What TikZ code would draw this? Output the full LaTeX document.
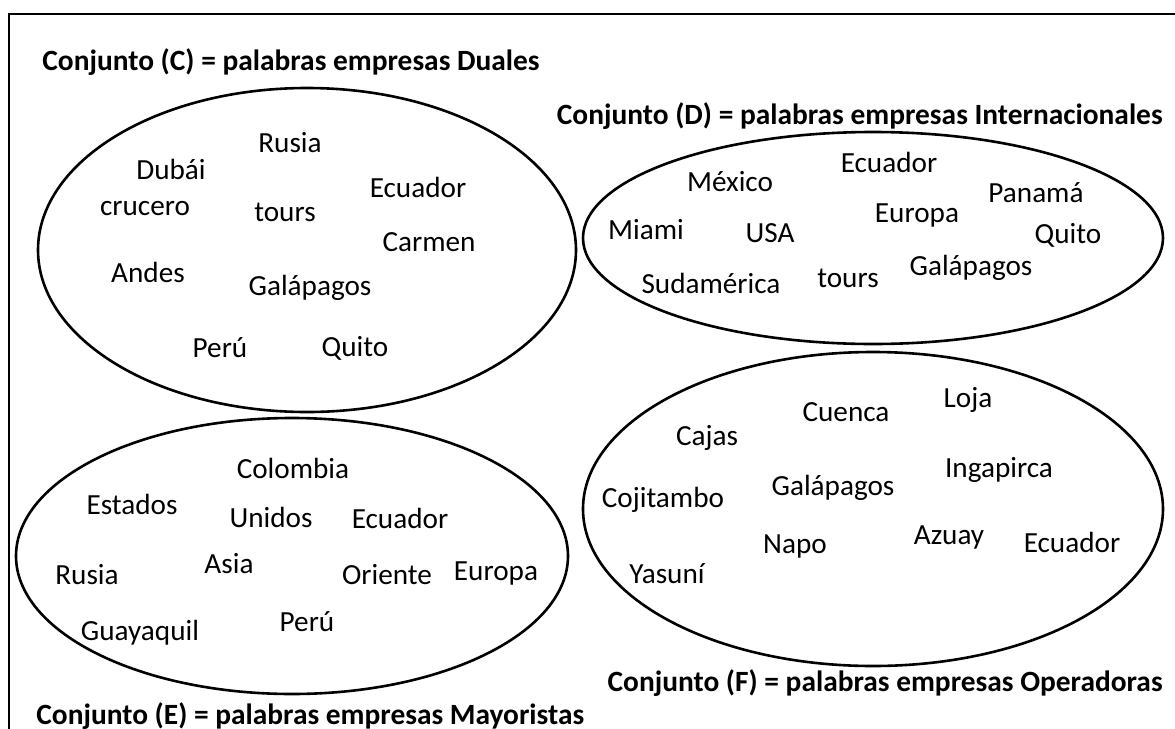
\documentclass[tikz,border=0pt]{standalone}
\usepackage{fontspec}
\setmainfont{Carlito}
\usetikzlibrary{shapes.geometric}
\tikzset{
  conjunto/.style={draw, ellipse, line width=1.3pt, inner sep=0pt},
  palabra/.style={font=\fontsize{14.6}{17}\selectfont},
  titulo/.style={font=\fontsize{14.7}{17}\selectfont\bfseries, inner sep=0pt},
}

\begin{document}
\begin{tikzpicture}[x=0.5pt,y=-0.5pt]
  \useasboundingbox (0,0) rectangle (1175,729);
  \coordinate (m1) at (1175,14);
  \coordinate (m2) at (9,14);
  \coordinate (m3) at (9,729);
  \draw[line width=1.3pt] (m1) -- (m2) -- (m3);

  % conjunto C
  \node[conjunto, minimum width=269pt, minimum height=162pt] (C) at (307,250) {};
  \node[titulo, anchor=west] (tC) at (42,62) {Conjunto (C) = palabras empresas Duales};
  \node[palabra] (c1) at (290,143) {Rusia};
  \node[palabra] (c2) at (171,169) {Dubái};
  \node[palabra] (c3) at (418,187) {Ecuador};
  \node[palabra] (c4) at (145,209) {crucero};
  \node[palabra] (c5) at (285,212) {tours};
  \node[palabra] (c6) at (429,242) {Carmen};
  \node[palabra] (c7) at (148,272) {Andes};
  \node[palabra] (c8) at (310,288) {Galápagos};
  \node[palabra] (c9) at (220,348) {Perú};
  \node[palabra] (c10) at (355,348) {Quito};

  % conjunto D
  \node[conjunto, minimum width=290pt, minimum height=106pt] (D) at (873,238) {};
  \node[titulo, anchor=east] (tD) at (1163,116) {Conjunto (D) = palabras empresas Internacionales};
  \node[palabra] (d1) at (889,162) {Ecuador};
  \node[palabra] (d2) at (730,182) {México};
  \node[palabra] (d3) at (1036,193) {Panamá};
  \node[palabra] (d4) at (917,215) {Europa};
  \node[palabra] (d5) at (646,230) {Miami};
  \node[palabra] (d6) at (770,233) {USA};
  \node[palabra] (d7) at (1068,235) {Quito};
  \node[palabra] (d8) at (971,268) {Galápagos};
  \node[palabra] (d9) at (848,278) {tours};
  \node[palabra] (d10) at (711,283) {Sudamérica};

  % conjunto E
  \node[conjunto, minimum width=276pt, minimum height=138pt] (E) at (292,556) {};
  \node[titulo, anchor=west] (tE) at (36,716) {Conjunto (E) = palabras empresas Mayoristas};
  \node[palabra] (e1) at (293,468) {Colombia};
  \node[palabra] (e2) at (132,504) {Estados};
  \node[palabra] (e3) at (271,517) {Unidos};
  \node[palabra] (e4) at (400,518) {Ecuador};
  \node[palabra] (e5) at (87,575) {Rusia};
  \node[palabra] (e6) at (229,564) {Asia};
  \node[palabra] (e7) at (387,575) {Oriente};
  \node[palabra] (e8) at (496,573) {Europa};
  \node[palabra] (e9) at (140,633) {Guayaquil};
  \node[palabra] (e10) at (307,622) {Perú};

  % conjunto F
  \node[conjunto, minimum width=290pt, minimum height=157pt] (F) at (873,509) {};
  \node[titulo, anchor=east] (tF) at (1163,683) {Conjunto (F) = palabras empresas Operadoras};
  \node[palabra] (f1) at (846,412) {Cuenca};
  \node[palabra] (f2) at (968,400) {Loja};
  \node[palabra] (f3) at (707,438) {Cajas};
  \node[palabra] (f4) at (999,470) {Ingapirca};
  \node[palabra] (f5) at (833,488) {Galápagos};
  \node[palabra] (f6) at (663,500) {Cojitambo};
  \node[palabra] (f7) at (795,546) {Napo};
  \node[palabra] (f8) at (949,537) {Azuay};
  \node[palabra] (f9) at (1072,542) {Ecuador};
  \node[palabra] (f10) at (667,574) {Yasuní};
\end{tikzpicture}
\end{document}
